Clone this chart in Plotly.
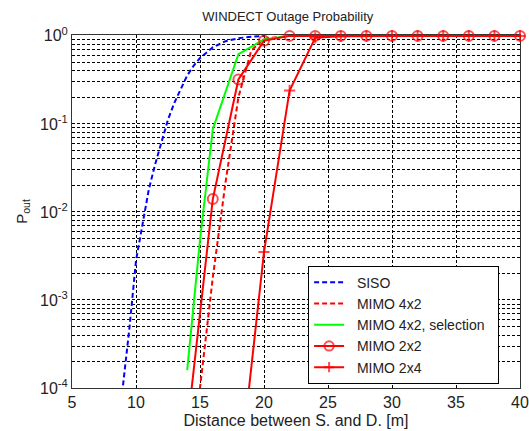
import plotly.graph_objects as go

# ---------------- data ----------------
siso_x = [8.5, 9, 9.5, 10, 10.5, 11, 11.5, 12, 12.5, 13, 13.5, 14, 14.5, 15, 15.5, 16, 17, 18, 19, 20]
siso_p = [2.5e-5, 1.1e-4, 5.0e-4, 2.8e-3, 7.0e-3, 1.8e-2, 3.5e-2, 6.3e-2, 0.112, 0.174, 0.25, 0.355,
          0.457, 0.56, 0.645, 0.74, 0.87, 0.94, 0.98, 1.0]

mimo42_x = [14, 15, 16, 17, 18, 19, 20, 22]
mimo42_p = [1.0e-5, 1.0e-4, 1.8e-3, 2.2e-2, 0.2, 0.68, 0.93, 1.0]

sel_x = [14, 15, 16, 18, 20, 22]
sel_p = [1.6e-4, 4.8e-3, 8.7e-2, 0.62, 0.91, 1.0]

mimo22_x = [14, 16, 18, 20, 22, 24, 26, 28, 30, 32, 34, 36, 38, 40]
mimo22_p = [3.5e-5, 0.014, 0.32, 0.88, 1.0, 1.0, 1.0, 1.0, 1.0, 1.0, 1.0, 1.0, 1.0, 1.0]

mimo24_x = [18, 20, 22, 24, 26, 28, 30, 32, 34, 36, 38, 40]
mimo24_p = [8.0e-6, 3.5e-3, 0.24, 0.95, 0.99, 1.0, 1.0, 1.0, 1.0, 1.0, 1.0, 1.0]

series_names = ["SISO", "MIMO 4x2", "MIMO 4x2, selection", "MIMO 2x2", "MIMO 2x4"]

x_ticks = [5, 10, 15, 20, 25, 30, 35, 40]
y_ticks = [1e-4, 1e-3, 1e-2, 1e-1, 1]
y_ticktext = ["10<sup>-4</sup>", "10<sup>-3</sup>", "10<sup>-2</sup>", "10<sup>-1</sup>", "10<sup>0</sup>"]
y_minor = [m * 10.0 ** e for e in (-4, -3, -2, -1) for m in range(2, 10)]

title_text = "WINDECT Outage Probability"
x_title = "Distance between S. and D. [m]"
y_title = "P<sub>out</sub>"

Y_MIN = 1e-4


def sizes(p, s):
    # hide markers of points lying below the visible range
    return [s if v >= Y_MIN else 0 for v in p]


def lname(s):
    # extra gap between legend sample and its text, and at the right edge
    return "\u00a0\u00a0" + s + "\u00a0\u00a0"


FONT = "Liberation Sans, Arial, sans-serif"
TXT = "#222222"

fig = go.Figure()
fig.add_trace(go.Scatter(x=siso_x, y=siso_p, mode="lines", name=lname(series_names[0]),
                         line=dict(color="#0000ff", width=2, dash="5px,3px")))
fig.add_trace(go.Scatter(x=mimo42_x, y=mimo42_p, mode="lines", name=lname(series_names[1]),
                         line=dict(color="#ff0000", width=2, dash="5px,3px")))
fig.add_trace(go.Scatter(x=sel_x, y=sel_p, mode="lines", name=lname(series_names[2]),
                         line=dict(color="#00ff00", width=2)))
fig.add_trace(go.Scatter(x=mimo22_x, y=mimo22_p, mode="lines+markers", name=lname(series_names[3]),
                         line=dict(color="#ff0000", width=2),
                         marker=dict(symbol="circle-open", size=sizes(mimo22_p, 10),
                                     color="#ff0000", line=dict(width=2, color="#ff0000")),
                         cliponaxis=False))
fig.add_trace(go.Scatter(x=mimo24_x, y=mimo24_p, mode="lines+markers", name=lname(series_names[4]),
                         line=dict(color="#ff0000", width=2),
                         marker=dict(symbol="cross-thin-open", size=sizes(mimo24_p, 8),
                                     color="#ff0000", line=dict(width=2, color="#ff0000")),
                         cliponaxis=False))

grid_dash = "3px,2px"
fig.update_layout(
    width=529, height=431,
    margin=dict(l=72, r=9, t=35, b=43, autoexpand=False),
    paper_bgcolor="white", plot_bgcolor="white",
    font=dict(family=FONT, color="#000000"),
    title=dict(text=title_text, x=0.544, xanchor="center", y=0.962, yanchor="middle",
               font=dict(size=13, family=FONT, color=TXT)),
    showlegend=True,
    legend=dict(x=0.527, y=0.012, xanchor="left", yanchor="bottom",
                bgcolor="white", bordercolor="#000000", borderwidth=1,
                font=dict(size=14, family=FONT, color=TXT),
                tracegroupgap=0),
)
fig.update_xaxes(range=[5, 40], tickmode="array", tickvals=x_ticks, automargin=False,
                 showline=True, mirror=True, linecolor="#333333", linewidth=1,
                 showgrid=True, gridcolor="#000000", gridwidth=1, griddash=grid_dash,
                 zeroline=False, ticks="", layer="below traces",
                 tickfont=dict(size=16, family=FONT, color=TXT),
                 title=dict(text=x_title, font=dict(size=16, family=FONT, color=TXT), standoff=4))
fig.update_yaxes(type="log", range=[-4, 0.01], tickmode="array", tickvals=y_ticks, ticktext=y_ticktext,
                 automargin=False,
                 showline=True, mirror=True, linecolor="#333333", linewidth=1,
                 showgrid=True, gridcolor="#000000", gridwidth=1, griddash=grid_dash,
                 zeroline=False, ticks="", layer="below traces",
                 minor=dict(tickmode="array", tickvals=y_minor, showgrid=True, gridcolor="#000000",
                            gridwidth=1, griddash=grid_dash, ticks=""),
                 tickfont=dict(size=16, family=FONT, color=TXT),
                 title=dict(text=y_title, font=dict(size=15, family=FONT, color=TXT), standoff=8))

fig.write_html("out.html")
